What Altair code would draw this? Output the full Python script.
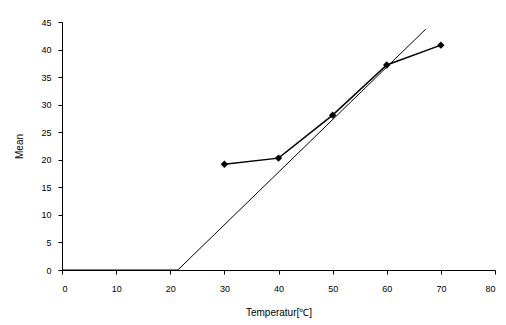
import altair as alt
import pandas as pd

temps = [30, 40, 50, 60, 70]
means = [19.2, 20.3, 28.1, 37.2, 40.8]

fit_x = [0, 21.4, 67.2]
fit_y = [0, 0, 43.7]

x_ticks = [0, 10, 20, 30, 40, 50, 60, 70, 80]
y_ticks = [0, 5, 10, 15, 20, 25, 30, 35, 40, 45]

obs = pd.DataFrame({"T": temps, "M": means})
fit = pd.DataFrame({"T": fit_x, "M": fit_y})

xscale = alt.Scale(domain=[0, 80], nice=False)
yscale = alt.Scale(domain=[0, 45], nice=False)
common = dict(grid=False, labelFontSize=9, titleFontSize=10, titleFontWeight="normal",
              labelFont="Liberation Sans", titleFont="Liberation Sans",
              domainColor="black", tickColor="black", labelColor="black", titleColor="black",
              tickSize=4, labelOverlap=False)
xaxis = alt.Axis(values=x_ticks, title="Temperatur[℃]", labelPadding=10, titlePadding=14, **common)
yaxis = alt.Axis(values=y_ticks, title="Mean", labelPadding=7, titlePadding=16, **common)

X = alt.X("T:Q", scale=xscale, axis=xaxis)
Y = alt.Y("M:Q", scale=yscale, axis=yaxis)

line_fit = alt.Chart(fit).mark_line(color="black", strokeWidth=1).encode(x=X, y=Y)
line_obs = alt.Chart(obs).mark_line(color="black", strokeWidth=1.5).encode(x=X, y=Y)
pts = alt.Chart(obs).mark_point(shape="diamond", filled=True, color="black", size=55, opacity=1).encode(x=X, y=Y)

chart = (line_fit + line_obs + pts).properties(
    width=433, height=248,
    autosize=alt.AutoSizeParams(type="none"),
    padding={"left": 62, "top": 22, "right": 11, "bottom": 55},
    background="white",
).configure_view(stroke=None)

chart.save("out.html", embed_options={"renderer": "svg", "actions": False})
